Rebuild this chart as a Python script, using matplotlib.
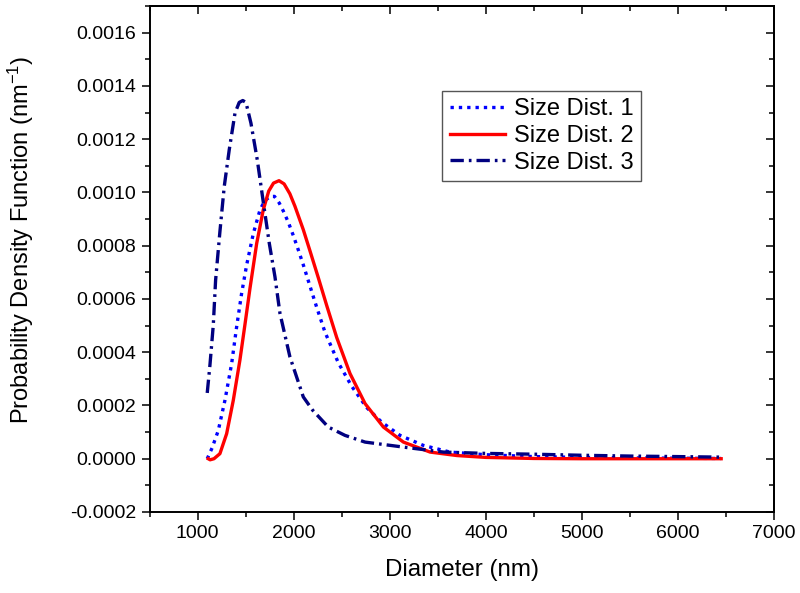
import matplotlib
matplotlib.use("Agg")
import matplotlib.pyplot as plt
from matplotlib.ticker import MultipleLocator, FormatStrFormatter

plt.rcParams['font.family'] = ['Liberation Sans', 'DejaVu Sans']
plt.rcParams['mathtext.default'] = 'regular'

# Size Dist. 1 (blue dotted)
dist1_x = [1100, 1150, 1215, 1284, 1354, 1406, 1458, 1510, 1580, 1649, 1700, 1760,
           1800, 1850, 1892, 1944, 1996, 2048, 2100, 2135, 2188, 2240, 2326, 2465,
           2604, 2760, 2917, 3107, 3350, 3628, 4000, 4500, 5000, 5500, 6000, 6450]
dist1_y = [0.0, 0.00004, 0.000106, 0.000219, 0.000357, 0.000495, 0.000621, 0.000727,
           0.000846, 0.000934, 0.000970, 0.000985, 0.000985, 0.00096, 0.00093, 0.000888,
           0.000838, 0.000784, 0.000728, 0.000688, 0.000627, 0.000568, 0.000475, 0.00036,
           0.000272, 0.000192, 0.000137, 0.0000877, 0.00005, 0.000025, 0.000015, 0.000008,
           0.000005, 0.000003, 0.000002, 0.000001]

# Size Dist. 2 (red solid)
dist2_x = [1110, 1130, 1170, 1232, 1302, 1371, 1440, 1493, 1545, 1615, 1683, 1740,
           1790, 1847, 1900, 1960, 2013, 2100, 2170, 2256, 2344, 2448, 2586, 2743,
           2934, 3142, 3420, 3698, 4000, 4500, 5000, 5500, 6000, 6450]
dist2_y = [0.0, -0.000004, 0.0, 0.000019, 0.000094, 0.000219, 0.00037, 0.000505,
           0.00064, 0.000809, 0.000934, 0.001005, 0.001035, 0.001044, 0.001032, 0.000995,
           0.000948, 0.00086, 0.00078, 0.00068, 0.000575, 0.000455, 0.00032, 0.000207,
           0.000119, 0.0000625, 0.000025, 0.000012, 0.000005, 0.000001, 0.0, 0.0, 0.0, 0.0]

# Size Dist. 3 (navy dash-dot)
dist3_x = [1100, 1128, 1163, 1187, 1232, 1277, 1329, 1389, 1433, 1470, 1503, 1555,
           1621, 1683, 1746, 1805, 1857, 1961, 2100, 2198, 2360, 2534, 2743, 3142,
           3558, 4000, 4500, 5000, 5500, 6000, 6450]
dist3_y = [0.000247, 0.000351, 0.000502, 0.00067, 0.000853, 0.001022, 0.00116, 0.001298,
           0.001338, 0.001345, 0.001338, 0.00126, 0.001122, 0.000965, 0.000809, 0.000683,
           0.000546, 0.000382, 0.000232, 0.000182, 0.000119, 0.0000877, 0.0000625, 0.0000437,
           0.000025, 0.00002, 0.000017, 0.000013, 0.00001, 0.000008, 0.000006]

labels = ['Size Dist. 1', 'Size Dist. 2', 'Size Dist. 3']

fig = plt.figure(figsize=(8, 5.93), dpi=100)
ax = fig.add_axes([0.187, 0.1366, 0.7805, 0.8533])

ax.plot(dist1_x, dist1_y, color='#0000ff', lw=2.4, dashes=(1, 1.5), label=labels[0])
ax.plot(dist2_x, dist2_y, color='#ff0000', lw=2.4, label=labels[1])
ax.plot(dist3_x, dist3_y, color='#000080', lw=2.4, dashes=(4, 1.5, 0.8, 1.5), label=labels[2])

ax.set_xlim(500, 7000)
ax.set_ylim(-0.0002, 0.0017)
ax.xaxis.set_major_locator(MultipleLocator(1000))
ax.xaxis.set_minor_locator(MultipleLocator(500))
ax.yaxis.set_major_locator(MultipleLocator(0.0002))
ax.yaxis.set_minor_locator(MultipleLocator(0.0001))
ax.yaxis.set_major_formatter(FormatStrFormatter('%.4f'))

for s in ax.spines.values():
    s.set_linewidth(1.4)

ax.tick_params(which='major', direction='out', length=6, width=1.1, labelsize=14)
ax.tick_params(which='minor', direction='out', length=3.5, width=1.1)

# mirrored ticks pointing inward on top and right
top = ax.secondary_xaxis('top')
top.xaxis.set_major_locator(MultipleLocator(1000))
top.xaxis.set_minor_locator(MultipleLocator(500))
top.tick_params(which='major', direction='in', length=6, width=1.1, labeltop=False)
top.tick_params(which='minor', direction='in', length=3.5, width=1.1)
right = ax.secondary_yaxis('right')
right.yaxis.set_major_locator(MultipleLocator(0.0002))
right.yaxis.set_minor_locator(MultipleLocator(0.0001))
right.tick_params(which='major', direction='in', length=6, width=1.1, labelright=False)
right.tick_params(which='minor', direction='in', length=3.5, width=1.1)
for sec in (top, right):
    for s in sec.spines.values():
        s.set_linewidth(1.4)

ax.set_xlabel('Diameter (nm)', fontsize=17.4, labelpad=12)
ax.set_ylabel('Probability Density Function (nm$^{-1}$)', fontsize=17)
ax.yaxis.set_label_coords(-0.182, 0.537)

leg = ax.legend(loc='upper left', bbox_to_anchor=(0.469, 0.832), borderaxespad=0,
                fontsize=17, handlelength=2.35, handletextpad=0.4, labelspacing=0.2,
                borderpad=0.3, fancybox=False, framealpha=1)
leg.get_frame().set_edgecolor('#555555')
leg.get_frame().set_linewidth(1.0)

fig.savefig('out.png', dpi=100)
